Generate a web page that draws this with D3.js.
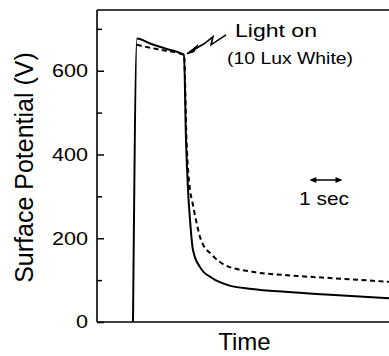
<!DOCTYPE html>
<html>
<head>
<meta charset="utf-8">
<script src="https://cdn.jsdelivr.net/npm/d3@7"></script>
<style>
  body { margin: 0; background: #fff; }
  svg { display: block; }
  text { font-family: "Liberation Sans", Arial, sans-serif; fill: #000; }
</style>
</head>
<body>
<svg id="chart" width="389" height="356"></svg>
<script>
// solid curve: time in s, surface potential in V
const solidTime  = [1.085, 1.206, 1.6, 2.05, 2.622, 2.682, 2.743, 2.803, 2.893, 3.104, 3.466, 3.948, 4.672, 5.666, 7.022, 8.8]
const solidVolts = [0, 677, 665, 653, 638, 435, 316, 244, 172, 131, 105, 88, 79, 72, 65, 57]

// dashed curve
const dashTime  = [1.2, 1.6, 2.05, 2.622, 2.697, 2.803, 2.863, 2.984, 3.134, 3.466, 3.858, 4.672, 5.666, 7.022, 8.8]
const dashVolts = [662, 655, 648, 638, 435, 315, 291, 243, 196, 160, 136, 120, 112, 105, 96]

const yTicks = [0, 200, 400, 600]
const yMinorTicks = [100, 300, 500, 700]
const lightOnTime = 2.622   // when the light goes on
const scaleBar = [6.4, 7.4]  // the "1 sec" marker

const svg = d3.select('#chart')
const plotLeft = 97, plotRight = 389, plotTop = 10, plotBottom = 322

const x = d3.scaleLinear().domain([0, 8.8]).range([plotLeft, plotRight])
const y = d3.scaleLinear().domain([0, 745]).range([plotBottom, plotTop])

// frame
svg.append('line').attr('x1', plotLeft).attr('x2', plotLeft).attr('y1', plotTop).attr('y2', plotBottom)
  .attr('stroke', '#000').attr('stroke-width', 1.6)
svg.append('line').attr('x1', plotLeft).attr('x2', plotRight).attr('y1', plotBottom).attr('y2', plotBottom)
  .attr('stroke', '#000').attr('stroke-width', 1.6)
svg.append('line').attr('x1', plotLeft).attr('x2', plotRight).attr('y1', plotTop).attr('y2', plotTop)
  .attr('stroke', '#000').attr('stroke-width', 1.4)

// y axis, ticks point inward
const yAxis = svg.append('g').attr('transform', `translate(${plotLeft},0)`)
  .call(d3.axisLeft(y).tickValues(yTicks).tickSize(-7).tickPadding(9).tickFormat(d3.format('d')))
yAxis.select('.domain').remove()
yAxis.selectAll('line').attr('stroke', '#000').attr('stroke-width', 1.5)
yAxis.selectAll('text')
  .style('font-family', '"Liberation Sans", Arial, sans-serif')
  .attr('font-size', 18)
  .attr('textLength', d => d === 0 ? 12 : 36)
  .attr('lengthAdjust', 'spacingAndGlyphs')

const yMinor = svg.append('g').attr('transform', `translate(${plotLeft},0)`)
  .call(d3.axisLeft(y).tickValues(yMinorTicks).tickSize(-5).tickFormat(''))
yMinor.select('.domain').remove()
yMinor.selectAll('line').attr('stroke', '#000').attr('stroke-width', 1.5)

// curves
svg.append('clipPath').attr('id', 'plotClip')
  .append('rect').attr('x', plotLeft).attr('y', plotTop)
  .attr('width', plotRight - plotLeft).attr('height', plotBottom - plotTop)

const line = d3.line()
  .x(d => x(d[0]))
  .y(d => y(d[1]))
  .curve(d3.curveMonotoneX)

const plot = svg.append('g').attr('clip-path', 'url(#plotClip)')

plot.append('path')
  .datum(dashTime.map((t, i) => [t, dashVolts[i]]))
  .attr('d', line)
  .attr('fill', 'none')
  .attr('stroke', '#000')
  .attr('stroke-width', 2)
  .attr('stroke-dasharray', '5,3.5')

plot.append('path')
  .datum(solidTime.map((t, i) => [t, solidVolts[i]]))
  .attr('d', line)
  .attr('fill', 'none')
  .attr('stroke', '#000')
  .attr('stroke-width', 2)

// "Light on" lightning arrow
const tipX = x(lightOnTime) + 3, tipY = y(638) - 1
const bolt = [[tipX, tipY], [tipX + 17, tipY - 10], [tipX + 26, tipY - 17], [tipX + 24, tipY - 9], [tipX + 39, tipY - 19]]
svg.append('path')
  .attr('d', d3.line()(bolt))
  .attr('fill', 'none').attr('stroke', '#000').attr('stroke-width', 1.6)
svg.append('path')
  .attr('d', `M${tipX},${tipY} L${tipX + 11},${tipY - 9} L${tipX + 7},${tipY - 2} Z`)
  .attr('fill', '#000').attr('stroke', '#000').attr('stroke-width', 1)

svg.append('text').attr('x', 235).attr('y', 37)
  .attr('font-size', 19).attr('textLength', 82).attr('lengthAdjust', 'spacingAndGlyphs')
  .text('Light on')
svg.append('text').attr('x', 227).attr('y', 64)
  .attr('font-size', 17).attr('textLength', 126).attr('lengthAdjust', 'spacingAndGlyphs')
  .text('(10 Lux  White)')

// 1 sec marker
const barY = 180
svg.append('line')
  .attr('x1', x(scaleBar[0]) + 4).attr('x2', x(scaleBar[1]) - 4)
  .attr('y1', barY).attr('y2', barY)
  .attr('stroke', '#000').attr('stroke-width', 1.5)
svg.append('path')
  .attr('d', `M${x(scaleBar[0])},${barY} l7,-3 l0,6 Z M${x(scaleBar[1])},${barY} l-7,-3 l0,6 Z`)
  .attr('fill', '#000')
svg.append('text').attr('x', 324).attr('y', 205).attr('text-anchor', 'middle')
  .attr('font-size', 18).attr('textLength', 50).attr('lengthAdjust', 'spacingAndGlyphs')
  .text('1 sec')

// axis titles
svg.append('text').attr('x', 244.5).attr('y', 350).attr('text-anchor', 'middle')
  .attr('font-size', 24).text('Time')

svg.append('text')
  .attr('transform', 'translate(33,167.5) rotate(-90)')
  .attr('text-anchor', 'middle')
  .attr('font-size', 25)
  .text('Surface Potential (V)')
</script>
</body>
</html>
